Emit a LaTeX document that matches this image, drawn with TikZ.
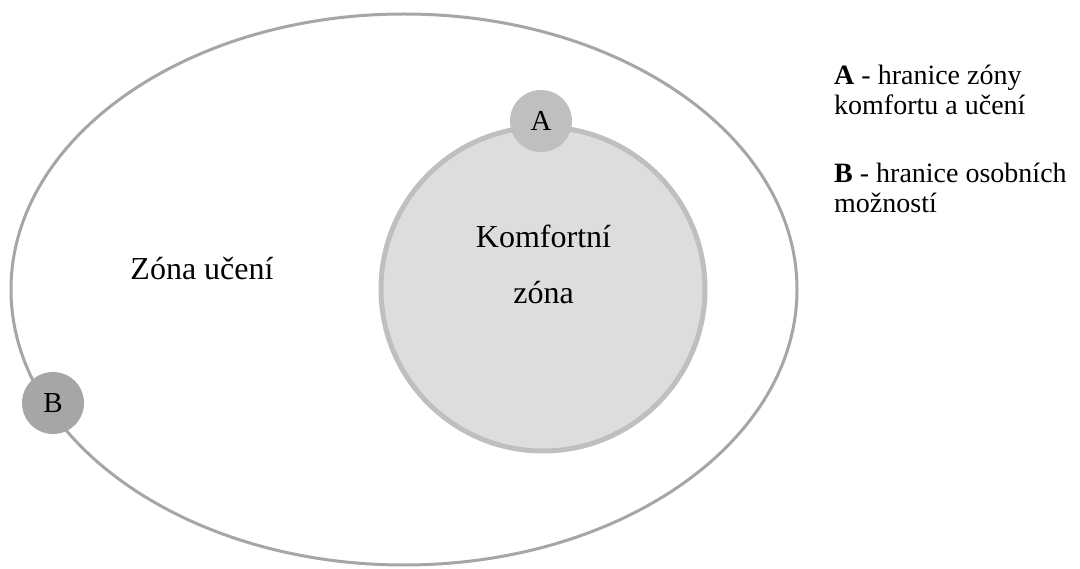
\documentclass[tikz,border=0pt]{standalone}
\usepackage{fontspec}
\setmainfont{Liberation Serif}
\usepackage{tikz}
\usetikzlibrary{shapes.geometric}
\definecolor{zoneEdge}{RGB}{166, 166, 166}
\definecolor{comfEdge}{RGB}{191, 191, 191}
\definecolor{comfFill}{RGB}{221, 221, 221}
\definecolor{markA}{RGB}{191, 191, 191}
\definecolor{markB}{RGB}{166, 166, 166}

\begin{document}
\begin{tikzpicture}[x=1pt, y=-1pt,
    mark circle/.style={circle, inner sep=0pt, minimum size=62pt, font=\fontsize{29}{32}\selectfont},
    label text/.style={font=\fontsize{32}{56}\selectfont, inner sep=0pt},
    legend text/.style={font=\fontsize{28}{30}\selectfont, inner sep=0pt, align=left, anchor=base west}]
        \useasboundingbox (0,0) rectangle (1080,569);
        % Zones
        \node[ellipse, draw=zoneEdge, line width=3pt, minimum width=786pt, minimum height=551pt, inner sep=0pt] (learn) at (404,289.5) {};
        \node[circle, draw=comfEdge, fill=comfFill, line width=5pt, minimum size=324pt, inner sep=0pt] (comfort) at (543,289) {};
        % Boundary markers
        \node[mark circle, fill=markA] (a) at (541,121) {A};
        \node[mark circle, fill=markB] (b) at (53,403) {B};
        % Zone labels (base = last line)
        \node[label text, anchor=base] (learnlabel) at (202,280) {Zóna učení};
        \node[label text, anchor=base, align=center] (comflabel) at (543.5,304) {Komfortní\\zóna};
        % Legend
        \node[legend text] (legA) at (834,115) {\textbf{A} - hranice zóny\\komfortu a učení};
        \node[legend text] (legB) at (834,213) {\textbf{B} - hranice osobních\\možností};
      \end{tikzpicture}
\end{document}
